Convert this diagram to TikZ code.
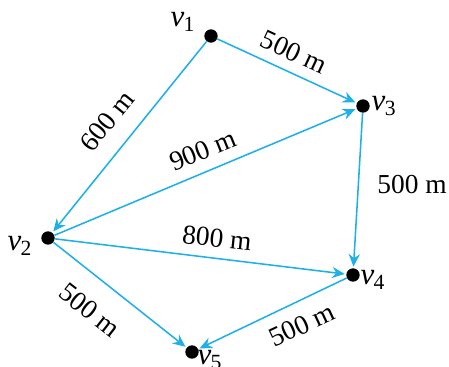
\documentclass[tikz,border=0pt]{standalone}
\usepackage{fontspec}
\setmainfont{Liberation Serif}
\usepackage{xcolor}
\usetikzlibrary{arrows.meta}
\definecolor{edgeblue}{RGB}{32,176,232}
\newcommand{\vlab}[1]{\textit{v}\kern-0.5pt\textsubscript{#1}}

\begin{document}
\begin{tikzpicture}[
  x=0.025cm, y=-0.025cm,
  font=\fontsize{19.5}{22}\selectfont,
  vert/.style={circle, fill=black, inner sep=0pt, minimum size=9.5pt},
  vname/.style={inner sep=0pt, font=\fontsize{22}{24}\selectfont},
  edge/.style={draw=edgeblue, line width=1.1pt, -{Stealth[length=9pt, width=8pt, inset=3pt]}, shorten >=1pt},
  dist/.style={inner sep=0pt}]
  \useasboundingbox (0,0) rectangle (449,367);
  % vertices
  \node[vert] (v1) at (211,36) {};
  \node[vert] (v3) at (363,106) {};
  \node[vert] (v2) at (48,238) {};
  \node[vert] (v4) at (353,275) {};
  \node[vert] (v5) at (192,352) {};
  \node[vname] (n1) at (183,22) {\vlab{1}};
  \node[vname] (n3) at (384,106) {\vlab{3}};
  \node[vname] (n2) at (20,246) {\vlab{2}};
  \node[vname] (n4) at (373,280) {\vlab{4}};
  \node[vname] (n5) at (210,360) {\vlab{5}};
  % edges
  \draw[edge] (v1) -- (v3);
  \draw[edge] (v1) -- (v2);
  \draw[edge] (v2) -- (v3);
  \draw[edge] (v2) -- (v4);
  \draw[edge] (v3) -- (v4);
  \draw[edge] (v2) -- (v5);
  \draw[edge] (v4) -- (v5);
  % distances
  \node[dist, rotate=-25] (d13) at (294,52) {500 m};
  \node[dist, rotate=51] (d12) at (107,121) {600 m};
  \node[dist, rotate=22] (d23) at (203,150) {900 m};
  \node[dist, rotate=-6] (d24) at (217,238) {800 m};
  \node[dist] (d34) at (412,185) {500 m};
  \node[dist, rotate=-38] (d25) at (90,310) {500 m};
  \node[dist, rotate=25] (d45) at (302,325) {500 m};
\end{tikzpicture}
\end{document}
